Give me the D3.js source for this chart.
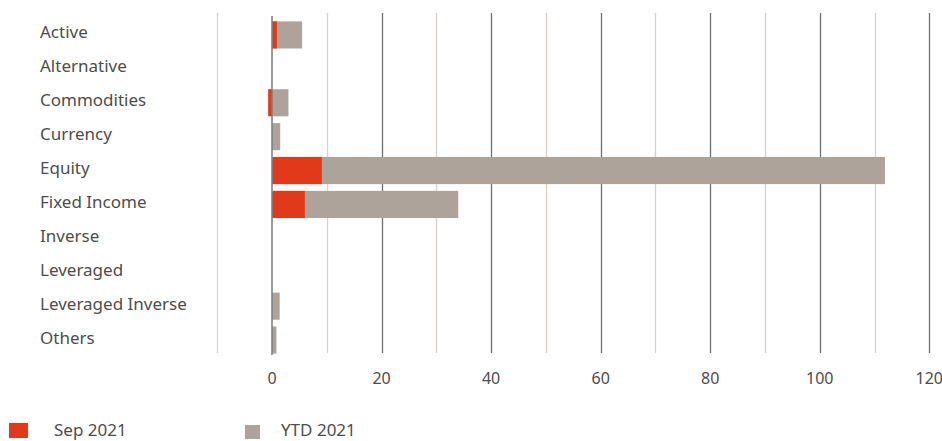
<!DOCTYPE html>
<html>
<head>
<meta charset="utf-8">
<script src="https://cdn.jsdelivr.net/npm/d3@7"></script>
<style>
  body { margin: 0; background: #fff; overflow: hidden; }
  text { font-family: "Noto Sans", sans-serif; fill: #4d4d4d; }
</style>
</head>
<body>
<div id="chart"></div>
<script>
// Fund categories and flows (USD bn)
const categories = ["Active", "Alternative", "Commodities", "Currency", "Equity",
    "Fixed Income", "Inverse", "Leveraged", "Leveraged Inverse", "Others"];
const sep2021 = [0.9, 0, -0.7, 0, 9.1, 6.0, 0, 0, 0, 0];
const ytd2021 = [5.5, 0, 3.0, 1.5, 111.9, 34.0, 0, 0, 1.4, 0.8];
const tickValues = [0, 20, 40, 60, 80, 100, 120];
const gridValues = [-10, 0, 10, 20, 30, 40, 50, 60, 70, 80, 90, 100, 110, 120];
const seriesNames = ["Sep 2021", "YTD 2021"];

const width = 942, height = 441;
const red = "#e03a1a", grey = "#ada39a";

const svg = d3.select("#chart").append("svg")
    .attr("width", width)
    .attr("height", height)
    .style("display", "block");

const x = d3.scaleLinear()
    .domain([0, 120])
    .range([272, 929.3]);

const y = d3.scaleBand()
    .domain(categories)
    .range([18, 357])
    .paddingInner(0.2)
    .paddingOuter(0.1);

// grid lines: labelled ones darker
svg.append("g").selectAll("line")
    .data(gridValues.filter(v => v !== 0))
    .join("line")
        .attr("x1", d => Math.round(x(d)) + 0.5)
        .attr("x2", d => Math.round(x(d)) + 0.5)
        .attr("y1", 13)
        .attr("y2", 353)
        .attr("stroke", d => d % 20 === 0 ? "#6f6f6f" : "#d9d1ca")
        .attr("stroke-width", 1.3);

// YTD bars behind
svg.append("g").selectAll("rect")
    .data(categories)
    .join("rect")
        .attr("x", (d, i) => x(Math.min(0, ytd2021[i])))
        .attr("y", d => y(d))
        .attr("width", (d, i) => Math.abs(x(ytd2021[i]) - x(0)))
        .attr("height", y.bandwidth())
        .attr("fill", grey);

// Sep bars on top
svg.append("g").selectAll("rect")
    .data(categories)
    .join("rect")
        .attr("x", (d, i) => x(Math.min(0, sep2021[i])))
        .attr("y", d => y(d))
        .attr("width", (d, i) => Math.abs(x(sep2021[i]) - x(0)))
        .attr("height", y.bandwidth())
        .attr("fill", red);

// zero line
svg.append("line")
    .attr("x1", x(0)).attr("x2", x(0))
    .attr("y1", 16).attr("y2", 355)
    .attr("stroke", "#808080")
    .attr("stroke-width", 1.6);

// category labels
svg.append("g").selectAll("text")
    .data(categories)
    .join("text")
        .attr("x", 40)
        .attr("y", d => y(d) + y.bandwidth() / 2 - 2.5)
        .attr("dy", "0.35em")
        .style("font-size", "17px")
        .text(d => d);

// x tick labels
svg.append("g").selectAll("text")
    .data(tickValues)
    .join("text")
        .attr("x", d => x(d))
        .attr("y", 384)
        .attr("text-anchor", "middle")
        .style("font-size", "16px")
        .text(d => d);

// legend
const legend = svg.append("g");
const legendItems = [
    {name: seriesNames[0], color: red, sx: 9, sy: 423, sw: 19, sh: 15, tx: 54},
    {name: seriesNames[1], color: grey, sx: 245, sy: 425, sw: 15, sh: 14, tx: 281}
];
legend.selectAll("rect")
    .data(legendItems)
    .join("rect")
        .attr("x", d => d.sx).attr("y", d => d.sy)
        .attr("width", d => d.sw).attr("height", d => d.sh)
        .attr("fill", d => d.color);
legend.selectAll("text")
    .data(legendItems)
    .join("text")
        .attr("x", d => d.tx)
        .attr("y", 436)
        .style("font-size", "17px")
        .text(d => d.name);
</script>
</body>
</html>
